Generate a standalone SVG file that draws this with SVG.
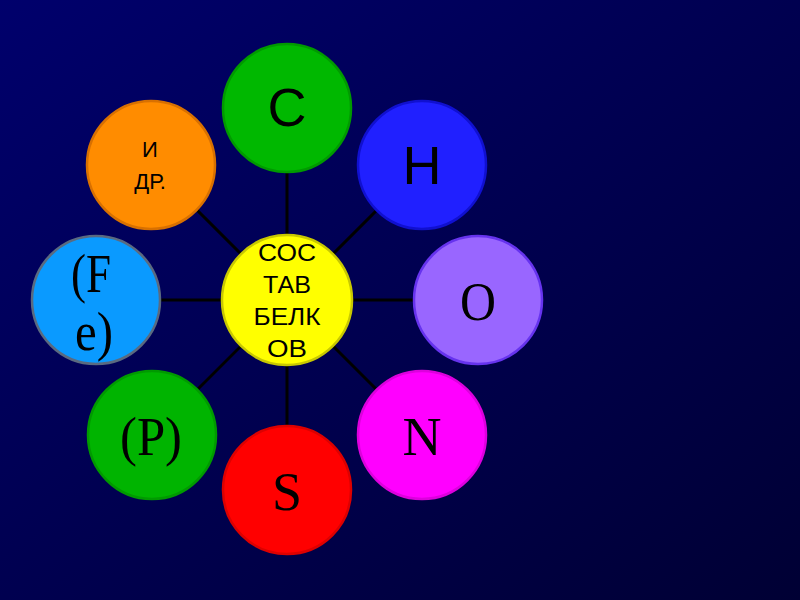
<svg xmlns="http://www.w3.org/2000/svg" width="800" height="600" viewBox="0 0 800 600">
<defs>
<linearGradient id="bg" x1="0" y1="0" x2="1" y2="1">
<stop offset="0" stop-color="#00006c"/>
<stop offset="1" stop-color="#000034"/>
</linearGradient>
</defs>
<style>
.n{stroke-width:2.5}
.sans{font-family:"Liberation Sans",Arial,sans-serif;fill:#000;text-anchor:middle}
.serif{font-family:"Liberation Serif","Times New Roman",serif;fill:#000;text-anchor:middle}
.big{font-size:54px}
.small{font-size:22px}
.mid{font-size:23px}
.conn line{stroke:#000;stroke-width:3}
</style>
<rect width="800" height="600" fill="url(#bg)"/>
<g id="connectors" class="conn">
<line x1="287" y1="300" x2="287" y2="108"/>
<line x1="287" y1="300" x2="422" y2="165"/>
<line x1="287" y1="300" x2="478" y2="300"/>
<line x1="287" y1="300" x2="422" y2="435"/>
<line x1="287" y1="300" x2="287" y2="492"/>
<line x1="287" y1="300" x2="152" y2="435"/>
<line x1="287" y1="300" x2="96" y2="300"/>
<line x1="287" y1="300" x2="152" y2="165"/>
</g>
<g id="node-C">
<circle class="n" cx="287" cy="108" r="64" fill="#00b800" stroke="#009a00"/>
<text class="sans big" x="287" y="126">C</text>
</g>
<g id="node-H">
<circle class="n" cx="422" cy="165" r="64" fill="#2020ff" stroke="#1010d0"/>
<text class="sans big" x="422" y="184">H</text>
</g>
<g id="node-O">
<circle class="n" cx="478" cy="300" r="64" fill="#9966ff" stroke="#6633ee"/>
<text class="serif big" x="478" y="320" textLength="36" lengthAdjust="spacingAndGlyphs">O</text>
</g>
<g id="node-N">
<circle class="n" cx="422" cy="435" r="64" fill="#ff00ff" stroke="#dd00dd"/>
<text class="serif big" x="422" y="455">N</text>
</g>
<g id="node-S">
<circle class="n" cx="287" cy="490" r="64" fill="#ff0000" stroke="#dd0000"/>
<text class="serif big" x="287" y="510">S</text>
</g>
<g id="node-P">
<circle class="n" cx="152" cy="435" r="64" fill="#00b400" stroke="#009a00"/>
<text class="serif big" x="151" y="455" textLength="62" lengthAdjust="spacingAndGlyphs">(P)</text>
</g>
<g id="node-Fe">
<circle class="n" cx="96" cy="300" r="64" fill="#0a9aff" stroke="#5a6a80"/>
<text class="serif big" x="91" y="292" textLength="40" lengthAdjust="spacingAndGlyphs">(F</text>
<text class="serif big" x="94" y="350" textLength="38" lengthAdjust="spacingAndGlyphs">e)</text>
</g>
<g id="node-other">
<circle class="n" cx="151" cy="165" r="64" fill="#ff8c00" stroke="#d87000"/>
<text class="sans small" x="150" y="157">И</text>
<text class="sans small" x="150" y="189">ДР.</text>
</g>
<g id="node-center">
<circle class="n" cx="287" cy="300" r="65" fill="#ffff00" stroke="#c8c800"/>
<text class="sans mid" x="287" y="261" textLength="58" lengthAdjust="spacingAndGlyphs">СОС</text>
<text class="sans mid" x="287" y="293" textLength="48" lengthAdjust="spacingAndGlyphs">ТАВ</text>
<text class="sans mid" x="287" y="325" textLength="67" lengthAdjust="spacingAndGlyphs">БЕЛК</text>
<text class="sans mid" x="287" y="357" textLength="40" lengthAdjust="spacingAndGlyphs">ОВ</text>
</g>
</svg>
